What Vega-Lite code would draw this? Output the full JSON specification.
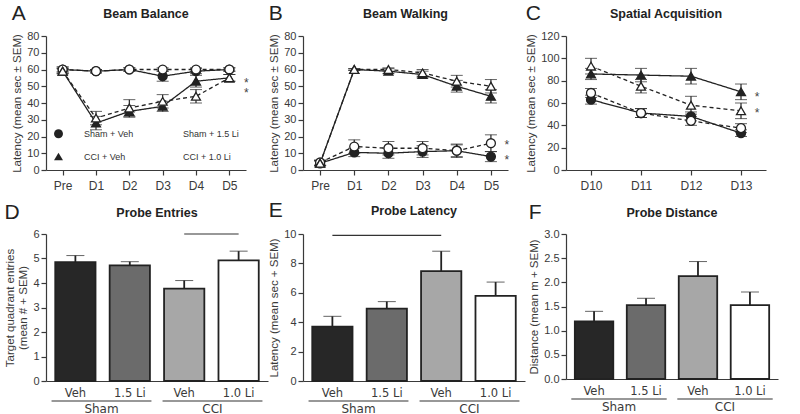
{
  "$schema": "https://vega.github.io/schema/vega-lite/v6.json",
  "padding": {"left": 4, "top": 2, "right": 2, "bottom": 0},
  "background": "white",
  "config": {
    "font": "Liberation Sans",
    "view": {"stroke": null},
    "axis": {"grid": false, "labelFont": "Liberation Sans", "labelFontSize": 11, "labelColor": "#3a3a3a", "titleFont": "Liberation Sans", "titleFontSize": 11.5, "titleFontWeight": "normal", "titleColor": "#3a3a3a", "domainColor": "#3a3a3a", "tickColor": "#3a3a3a", "tickSize": 5, "domainWidth": 1.2, "tickWidth": 1.2},
    "title": {"font": "Liberation Sans", "fontSize": 12.5, "fontWeight": "bold", "color": "#222", "offset": 10},
    "legend": {"labelFont": "Liberation Sans", "orient": "bottom-left", "offset": 7, "padding": 0, "direction": "horizontal", "columns": 2, "title": null, "labelFontSize": 9, "labelColor": "#333", "symbolSize": 80, "symbolStrokeWidth": 1.3, "symbolStrokeColor": "#222", "columnPadding": 16, "rowPadding": 9, "labelOffset": 20}
  },
  "datasets": {
    "A": [
      {"day": "Pre", "group": "Sham + Veh", "mean": 60, "sem": 1.5},
      {"day": "Pre", "group": "Sham + 1.5 Li", "mean": 60, "sem": 1.5},
      {"day": "Pre", "group": "CCI + Veh", "mean": 59, "sem": 1.5},
      {"day": "Pre", "group": "CCI + 1.0 Li", "mean": 59, "sem": 1.5},
      {"day": "D1", "group": "Sham + Veh", "mean": 59, "sem": 1},
      {"day": "D1", "group": "Sham + 1.5 Li", "mean": 59, "sem": 1},
      {"day": "D1", "group": "CCI + Veh", "mean": 28, "sem": 4},
      {"day": "D1", "group": "CCI + 1.0 Li", "mean": 31, "sem": 4},
      {"day": "D2", "group": "Sham + Veh", "mean": 60, "sem": 1},
      {"day": "D2", "group": "Sham + 1.5 Li", "mean": 60, "sem": 1},
      {"day": "D2", "group": "CCI + Veh", "mean": 35, "sem": 3.5},
      {"day": "D2", "group": "CCI + 1.0 Li", "mean": 37, "sem": 5},
      {"day": "D3", "group": "Sham + Veh", "mean": 56, "sem": 3},
      {"day": "D3", "group": "Sham + 1.5 Li", "mean": 60, "sem": 1},
      {"day": "D3", "group": "CCI + Veh", "mean": 38, "sem": 3},
      {"day": "D3", "group": "CCI + 1.0 Li", "mean": 41, "sem": 4},
      {"day": "D4", "group": "Sham + Veh", "mean": 59, "sem": 1.5},
      {"day": "D4", "group": "Sham + 1.5 Li", "mean": 60, "sem": 1},
      {"day": "D4", "group": "CCI + Veh", "mean": 53, "sem": 3.5},
      {"day": "D4", "group": "CCI + 1.0 Li", "mean": 44, "sem": 4},
      {"day": "D5", "group": "Sham + Veh", "mean": 60, "sem": 1},
      {"day": "D5", "group": "Sham + 1.5 Li", "mean": 60, "sem": 1},
      {"day": "D5", "group": "CCI + Veh", "mean": 55, "sem": 2},
      {"day": "D5", "group": "CCI + 1.0 Li", "mean": 55, "sem": 2}
    ],
    "B": [
      {"day": "Pre", "group": "Sham + Veh", "mean": 4, "sem": 1.5},
      {"day": "Pre", "group": "Sham + 1.5 Li", "mean": 4.5, "sem": 1.5},
      {"day": "Pre", "group": "CCI + Veh", "mean": 4, "sem": 1.5},
      {"day": "Pre", "group": "CCI + 1.0 Li", "mean": 4, "sem": 1.5},
      {"day": "D1", "group": "Sham + Veh", "mean": 10.5, "sem": 2.5},
      {"day": "D1", "group": "Sham + 1.5 Li", "mean": 14, "sem": 4},
      {"day": "D1", "group": "CCI + Veh", "mean": 60, "sem": 0.5},
      {"day": "D1", "group": "CCI + 1.0 Li", "mean": 60, "sem": 0.5},
      {"day": "D2", "group": "Sham + Veh", "mean": 10, "sem": 3},
      {"day": "D2", "group": "Sham + 1.5 Li", "mean": 13, "sem": 4},
      {"day": "D2", "group": "CCI + Veh", "mean": 59, "sem": 1.5},
      {"day": "D2", "group": "CCI + 1.0 Li", "mean": 60, "sem": 1},
      {"day": "D3", "group": "Sham + Veh", "mean": 11, "sem": 3.5},
      {"day": "D3", "group": "Sham + 1.5 Li", "mean": 13, "sem": 4},
      {"day": "D3", "group": "CCI + Veh", "mean": 57, "sem": 2},
      {"day": "D3", "group": "CCI + 1.0 Li", "mean": 58, "sem": 2},
      {"day": "D4", "group": "Sham + Veh", "mean": 11.5, "sem": 3.5},
      {"day": "D4", "group": "Sham + 1.5 Li", "mean": 11.5, "sem": 4},
      {"day": "D4", "group": "CCI + Veh", "mean": 50, "sem": 3.5},
      {"day": "D4", "group": "CCI + 1.0 Li", "mean": 53, "sem": 3.5},
      {"day": "D5", "group": "Sham + Veh", "mean": 8, "sem": 3},
      {"day": "D5", "group": "Sham + 1.5 Li", "mean": 16, "sem": 5},
      {"day": "D5", "group": "CCI + Veh", "mean": 44, "sem": 4},
      {"day": "D5", "group": "CCI + 1.0 Li", "mean": 50, "sem": 4}
    ],
    "C": [
      {"day": "D10", "group": "Sham + Veh", "mean": 63, "sem": 4},
      {"day": "D10", "group": "Sham + 1.5 Li", "mean": 69, "sem": 4},
      {"day": "D10", "group": "CCI + Veh", "mean": 86, "sem": 5},
      {"day": "D10", "group": "CCI + 1.0 Li", "mean": 93, "sem": 7},
      {"day": "D11", "group": "Sham + Veh", "mean": 51, "sem": 4},
      {"day": "D11", "group": "Sham + 1.5 Li", "mean": 51, "sem": 4},
      {"day": "D11", "group": "CCI + Veh", "mean": 85, "sem": 6},
      {"day": "D11", "group": "CCI + 1.0 Li", "mean": 75, "sem": 6},
      {"day": "D12", "group": "Sham + Veh", "mean": 48, "sem": 4},
      {"day": "D12", "group": "Sham + 1.5 Li", "mean": 44, "sem": 4},
      {"day": "D12", "group": "CCI + Veh", "mean": 84, "sem": 7},
      {"day": "D12", "group": "CCI + 1.0 Li", "mean": 58, "sem": 8},
      {"day": "D13", "group": "Sham + Veh", "mean": 33, "sem": 3},
      {"day": "D13", "group": "Sham + 1.5 Li", "mean": 37.5, "sem": 4},
      {"day": "D13", "group": "CCI + Veh", "mean": 70, "sem": 7},
      {"day": "D13", "group": "CCI + 1.0 Li", "mean": 53, "sem": 7}
    ],
    "D": [
      {"cond": "Sham|Veh", "mean": 4.85, "sem": 0.27},
      {"cond": "Sham|1.5 Li", "mean": 4.72, "sem": 0.15},
      {"cond": "CCI|Veh", "mean": 3.77, "sem": 0.33},
      {"cond": "CCI|1.0 Li", "mean": 4.92, "sem": 0.38}
    ],
    "E": [
      {"cond": "Sham|Veh", "mean": 3.7, "sem": 0.7},
      {"cond": "Sham|1.5 Li", "mean": 4.93, "sem": 0.47},
      {"cond": "CCI|Veh", "mean": 7.48, "sem": 1.35},
      {"cond": "CCI|1.0 Li", "mean": 5.79, "sem": 0.94}
    ],
    "F": [
      {"cond": "Sham|Veh", "mean": 1.19, "sem": 0.21},
      {"cond": "Sham|1.5 Li", "mean": 1.53, "sem": 0.14},
      {"cond": "CCI|Veh", "mean": 2.13, "sem": 0.3},
      {"cond": "CCI|1.0 Li", "mean": 1.53, "sem": 0.27}
    ],
    "groups": [{"group": "Sham"}, {"group": "CCI"}]
  },
  "columns": 3,
  "align": "each",
  "spacing": {"row": 8, "column": 0},
  "resolve": {"legend": {"shape": "independent", "fill": "independent"}},
  "concat": [
    {
      "title": {"text": "A", "anchor": "start", "frame": "bounds", "fontSize": 21, "fontWeight": "normal", "offset": -16},
      "resolve": {"legend": {"shape": "independent", "fill": "independent"}},
      "vconcat": [{
        "width": 200, "height": 134,
        "title": "Beam Balance",
        "data": {"name": "A"},
        "encoding": {
          "x": {"field": "day", "type": "ordinal", "sort": null, "scale": {"type": "point", "domain": ["Pre", "D1", "D2", "D3", "D4", "D5"]}, "axis": {"title": null, "labelAngle": 0, "labelFontSize": 12, "labelPadding": 5}},
          "y": {"field": "mean", "type": "quantitative", "scale": {"domain": [0, 80]}, "axis": {"title": "Latency (mean sec ± SEM)", "values": [0, 10, 20, 30, 40, 50, 60, 70, 80], "titlePadding": 4}}
        },
        "layer": [
          {"mark": {"type": "errorbar", "ticks": {"size": 12, "color": "#222"}, "rule": {"color": "#222", "strokeWidth": 1.2}},
           "encoding": {"yError": {"field": "sem"}}},
          {"mark": {"type": "line", "color": "#222", "strokeWidth": 1.3},
           "encoding": {"detail": {"field": "group"},
             "strokeDash": {"field": "group", "scale": {"domain": ["Sham + Veh", "Sham + 1.5 Li", "CCI + Veh", "CCI + 1.0 Li"], "range": [[1, 0], [4, 3], [1, 0], [4, 3]]}, "legend": null}}},
          {"mark": {"type": "point", "filled": false, "stroke": "#222", "strokeWidth": 1.3, "size": 80, "opacity": 1},
           "encoding": {
             "shape": {"field": "group", "scale": {"domain": ["Sham + Veh", "Sham + 1.5 Li", "CCI + Veh", "CCI + 1.0 Li"], "range": ["circle", "circle", "triangle-up", "triangle-up"]}, "legend": {"title": null, "symbolStrokeColor": "#222", "symbolStrokeWidth": 1.3}},
             "fill": {"field": "group", "scale": {"domain": ["Sham + Veh", "Sham + 1.5 Li", "CCI + Veh", "CCI + 1.0 Li"], "range": ["#222222", "#ffffff", "#222222", "#ffffff"]}, "legend": {"title": null, "symbolStrokeColor": "#222", "symbolStrokeWidth": 1.3}}}},
          {"data": {"values": [{"day": "D5", "mean": 54}, {"day": "D5", "mean": 48}]},
           "mark": {"type": "text", "text": "*", "dx": 17, "dy": 3, "fontSize": 12, "color": "#444"}}
        ]
      }]
    },
    {
      "title": {"text": "B", "anchor": "start", "frame": "bounds", "fontSize": 21, "fontWeight": "normal", "offset": -16},
      "vconcat": [{
        "width": 205, "height": 134,
        "title": "Beam Walking",
        "data": {"name": "B"},
        "encoding": {
          "x": {"field": "day", "type": "ordinal", "sort": null, "scale": {"type": "point", "domain": ["Pre", "D1", "D2", "D3", "D4", "D5"]}, "axis": {"title": null, "labelAngle": 0, "labelFontSize": 12, "labelPadding": 5}},
          "y": {"field": "mean", "type": "quantitative", "scale": {"domain": [0, 80]}, "axis": {"title": "Latency (mean sec ± SEM)", "values": [0, 10, 20, 30, 40, 50, 60, 70, 80], "titlePadding": 4}}
        },
        "layer": [
          {"mark": {"type": "errorbar", "ticks": {"size": 12, "color": "#222"}, "rule": {"color": "#222", "strokeWidth": 1.2}},
           "encoding": {"yError": {"field": "sem"}}},
          {"mark": {"type": "line", "color": "#222", "strokeWidth": 1.3},
           "encoding": {"detail": {"field": "group"},
             "strokeDash": {"field": "group", "scale": {"domain": ["Sham + Veh", "Sham + 1.5 Li", "CCI + Veh", "CCI + 1.0 Li"], "range": [[1, 0], [4, 3], [1, 0], [4, 3]]}, "legend": null}}},
          {"mark": {"type": "point", "filled": false, "stroke": "#222", "strokeWidth": 1.3, "size": 80, "opacity": 1},
           "encoding": {
             "shape": {"field": "group", "scale": {"domain": ["Sham + Veh", "Sham + 1.5 Li", "CCI + Veh", "CCI + 1.0 Li"], "range": ["circle", "circle", "triangle-up", "triangle-up"]}, "legend": null},
             "fill": {"field": "group", "scale": {"domain": ["Sham + Veh", "Sham + 1.5 Li", "CCI + Veh", "CCI + 1.0 Li"], "range": ["#222222", "#ffffff", "#222222", "#ffffff"]}, "legend": null}}},
          {"data": {"values": [{"day": "D5", "mean": 17}, {"day": "D5", "mean": 8}]},
           "mark": {"type": "text", "text": "*", "dx": 16, "dy": 3, "fontSize": 12, "color": "#444"}}
        ]
      }]
    },
    {
      "title": {"text": "C", "anchor": "start", "frame": "bounds", "fontSize": 21, "fontWeight": "normal", "offset": -16},
      "vconcat": [{
        "width": 200, "height": 134,
        "title": "Spatial Acquisition",
        "data": {"name": "C"},
        "encoding": {
          "x": {"field": "day", "type": "ordinal", "sort": null, "scale": {"type": "point", "domain": ["D10", "D11", "D12", "D13"]}, "axis": {"title": null, "labelAngle": 0, "labelFontSize": 12, "labelPadding": 5}},
          "y": {"field": "mean", "type": "quantitative", "scale": {"domain": [0, 120]}, "axis": {"title": "Latency (mean sec ± SEM)", "values": [0, 20, 40, 60, 80, 100, 120], "titlePadding": 4}}
        },
        "layer": [
          {"mark": {"type": "errorbar", "ticks": {"size": 12, "color": "#222"}, "rule": {"color": "#222", "strokeWidth": 1.2}},
           "encoding": {"yError": {"field": "sem"}}},
          {"mark": {"type": "line", "color": "#222", "strokeWidth": 1.3},
           "encoding": {"detail": {"field": "group"},
             "strokeDash": {"field": "group", "scale": {"domain": ["Sham + Veh", "Sham + 1.5 Li", "CCI + Veh", "CCI + 1.0 Li"], "range": [[1, 0], [4, 3], [1, 0], [4, 3]]}, "legend": null}}},
          {"mark": {"type": "point", "filled": false, "stroke": "#222", "strokeWidth": 1.3, "size": 80, "opacity": 1},
           "encoding": {
             "shape": {"field": "group", "scale": {"domain": ["Sham + Veh", "Sham + 1.5 Li", "CCI + Veh", "CCI + 1.0 Li"], "range": ["circle", "circle", "triangle-up", "triangle-up"]}, "legend": null},
             "fill": {"field": "group", "scale": {"domain": ["Sham + Veh", "Sham + 1.5 Li", "CCI + Veh", "CCI + 1.0 Li"], "range": ["#222222", "#ffffff", "#222222", "#ffffff"]}, "legend": null}}},
          {"data": {"values": [{"day": "D13", "mean": 68}, {"day": "D13", "mean": 54}]},
           "mark": {"type": "text", "text": "*", "dx": 16, "dy": 3, "fontSize": 12, "color": "#444"}}
        ]
      }]
    },
    {
      "title": {"text": "D", "anchor": "start", "frame": "bounds", "fontSize": 21, "fontWeight": "normal", "offset": -16},
      "spacing": 1,
      "vconcat": [
        {
          "width": 222, "height": 147,
          "title": {"text": "Probe  Entries", "offset": 9},
          "data": {"name": "D"},
          "encoding": {
            "x": {"field": "cond", "type": "nominal", "sort": null, "scale": {"domain": ["Sham|Veh", "Sham|1.5 Li", "CCI|Veh", "CCI|1.0 Li"], "paddingInner": 0.26, "paddingOuter": 0.17}, "axis": {"title": null, "labelAngle": 0, "ticks": false, "labelPadding": 6, "labelFont": "DejaVu Sans", "labelFontSize": 11.5, "labelExpr": "split(datum.label, '|')[1]"}},
            "y": {"field": "mean", "type": "quantitative", "scale": {"domain": [0, 6]}, "axis": {"title": ["Target quadrant entries", "(mean # + SEM)"], "values": [0, 1, 2, 3, 4, 5, 6], "titlePadding": 4}}
          },
          "layer": [
            {"mark": {"type": "errorbar", "ticks": {"size": 18, "color": "#222", "strokeWidth": 1.8}, "rule": {"color": "#222", "strokeWidth": 1.8}},
             "encoding": {"yError": {"field": "sem"}}},
            {"mark": {"type": "bar", "stroke": "#222", "strokeWidth": 1.8},
             "encoding": {"color": {"field": "cond", "scale": {"domain": ["Sham|Veh", "Sham|1.5 Li", "CCI|Veh", "CCI|1.0 Li"], "range": ["#272727", "#6b6b6b", "#a7a7a7", "#ffffff"]}, "legend": null}}},
            {"data": {"values": [{"cond": "CCI|Veh", "cond2": "CCI|1.0 Li", "mean": 6}]},
             "mark": {"type": "rule", "color": "#333", "strokeWidth": 1.2},
             "encoding": {"x2": {"field": "cond2"}}}
          ]
        },
        {
          "width": 222, "height": 2,
          "data": {"name": "groups"},
          "mark": {"type": "rule", "color": "#333", "strokeWidth": 1.2},
          "encoding": {"x": {"field": "group", "type": "nominal", "sort": null, "bandPosition": 0, "scale": {"domain": ["Sham", "CCI"], "paddingInner": 0.1, "paddingOuter": 0.05}, "axis": {"title": null, "domain": false, "ticks": false, "labelAngle": 0, "labelPadding": 1, "labelFont": "DejaVu Sans", "labelFontSize": 12}},
            "x2": {"field": "group", "bandPosition": 1}}
        }
      ]
    },
    {
      "title": {"text": "E", "anchor": "start", "frame": "bounds", "fontSize": 21, "fontWeight": "normal", "offset": -16},
      "spacing": 1,
      "vconcat": [
        {
          "width": 222, "height": 147,
          "title": {"text": "Probe Latency", "offset": 11},
          "data": {"name": "E"},
          "encoding": {
            "x": {"field": "cond", "type": "nominal", "sort": null, "scale": {"domain": ["Sham|Veh", "Sham|1.5 Li", "CCI|Veh", "CCI|1.0 Li"], "paddingInner": 0.26, "paddingOuter": 0.17}, "axis": {"title": null, "labelAngle": 0, "ticks": false, "labelPadding": 6, "labelFont": "DejaVu Sans", "labelFontSize": 11.5, "labelExpr": "split(datum.label, '|')[1]"}},
            "y": {"field": "mean", "type": "quantitative", "scale": {"domain": [0, 10]}, "axis": {"title": "Latency (mean sec + SEM)", "values": [0, 2, 4, 6, 8, 10], "titlePadding": 4}}
          },
          "layer": [
            {"mark": {"type": "errorbar", "ticks": {"size": 18, "color": "#222", "strokeWidth": 1.8}, "rule": {"color": "#222", "strokeWidth": 1.8}},
             "encoding": {"yError": {"field": "sem"}}},
            {"mark": {"type": "bar", "stroke": "#222", "strokeWidth": 1.8},
             "encoding": {"color": {"field": "cond", "scale": {"domain": ["Sham|Veh", "Sham|1.5 Li", "CCI|Veh", "CCI|1.0 Li"], "range": ["#272727", "#6b6b6b", "#a7a7a7", "#ffffff"]}, "legend": null}}},
            {"data": {"values": [{"cond": "Sham|Veh", "cond2": "CCI|Veh", "mean": 9.9}]},
             "mark": {"type": "rule", "color": "#333", "strokeWidth": 1.2},
             "encoding": {"x2": {"field": "cond2"}}}
          ]
        },
        {
          "width": 222, "height": 2,
          "data": {"name": "groups"},
          "mark": {"type": "rule", "color": "#333", "strokeWidth": 1.2},
          "encoding": {"x": {"field": "group", "type": "nominal", "sort": null, "bandPosition": 0, "scale": {"domain": ["Sham", "CCI"], "paddingInner": 0.1, "paddingOuter": 0.05}, "axis": {"title": null, "domain": false, "ticks": false, "labelAngle": 0, "labelPadding": 1, "labelFont": "DejaVu Sans", "labelFontSize": 12}},
            "x2": {"field": "group", "bandPosition": 1}}
        }
      ]
    },
    {
      "title": {"text": "F", "anchor": "start", "frame": "bounds", "fontSize": 21, "fontWeight": "normal", "offset": -16},
      "spacing": 1,
      "vconcat": [
        {
          "width": 212, "height": 145,
          "title": {"text": "Probe Distance", "offset": 9},
          "data": {"name": "F"},
          "encoding": {
            "x": {"field": "cond", "type": "nominal", "sort": null, "scale": {"domain": ["Sham|Veh", "Sham|1.5 Li", "CCI|Veh", "CCI|1.0 Li"], "paddingInner": 0.26, "paddingOuter": 0.17}, "axis": {"title": null, "labelAngle": 0, "ticks": false, "labelPadding": 6, "labelFont": "DejaVu Sans", "labelFontSize": 11.5, "labelExpr": "split(datum.label, '|')[1]"}},
            "y": {"field": "mean", "type": "quantitative", "scale": {"domain": [0, 3]}, "axis": {"title": "Distance (mean m + SEM)", "values": [0, 0.5, 1, 1.5, 2, 2.5, 3], "format": ".1f", "titlePadding": 4}}
          },
          "layer": [
            {"mark": {"type": "errorbar", "ticks": {"size": 18, "color": "#222", "strokeWidth": 1.8}, "rule": {"color": "#222", "strokeWidth": 1.8}},
             "encoding": {"yError": {"field": "sem"}}},
            {"mark": {"type": "bar", "stroke": "#222", "strokeWidth": 1.8},
             "encoding": {"color": {"field": "cond", "scale": {"domain": ["Sham|Veh", "Sham|1.5 Li", "CCI|Veh", "CCI|1.0 Li"], "range": ["#272727", "#6b6b6b", "#a7a7a7", "#ffffff"]}, "legend": null}}}
          ]
        },
        {
          "width": 212, "height": 2,
          "data": {"name": "groups"},
          "mark": {"type": "rule", "color": "#333", "strokeWidth": 1.2},
          "encoding": {"x": {"field": "group", "type": "nominal", "sort": null, "bandPosition": 0, "scale": {"domain": ["Sham", "CCI"], "paddingInner": 0.1, "paddingOuter": 0.05}, "axis": {"title": null, "domain": false, "ticks": false, "labelAngle": 0, "labelPadding": 1, "labelFont": "DejaVu Sans", "labelFontSize": 12}},
            "x2": {"field": "group", "bandPosition": 1}}
        }
      ]
    }
  ]
}
